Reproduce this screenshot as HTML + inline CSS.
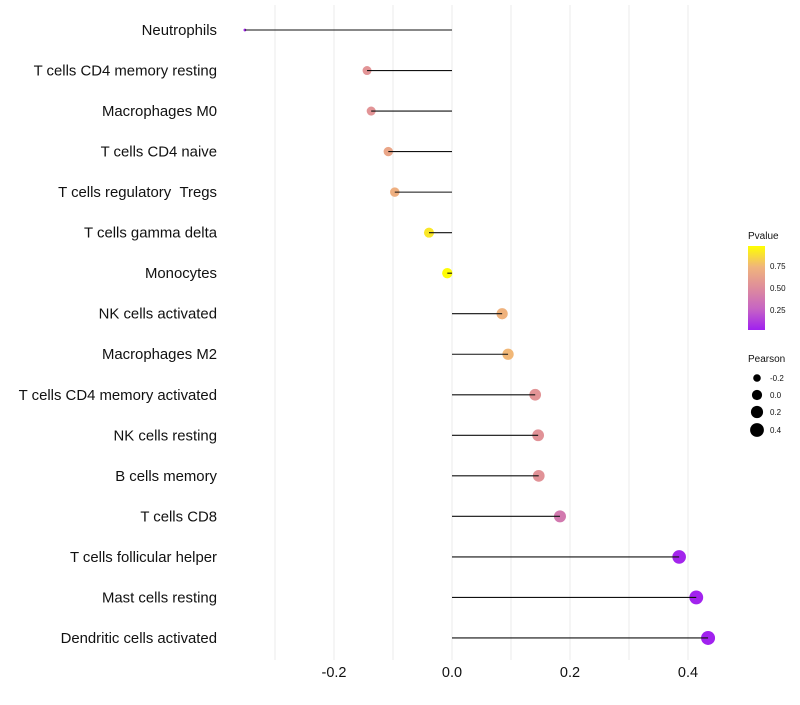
<!DOCTYPE html>
<html><head><meta charset="utf-8"><style>
body{margin:0;background:#fff;font-family:"Liberation Sans",sans-serif;}
</style></head><body>
<svg id="c" width="800" height="700" xmlns="http://www.w3.org/2000/svg">
<defs><linearGradient id="pg" x1="0" y1="1" x2="0" y2="0">
<stop offset="0" stop-color="#a020f0"/><stop offset="0.25" stop-color="#c664c4"/><stop offset="0.5" stop-color="#de8c9c"/><stop offset="0.75" stop-color="#f0b47c"/><stop offset="1" stop-color="#ffff00"/></linearGradient></defs>
<g id="grid"></g><g id="marks"></g><g id="labels"></g>
<g font-size="10" fill="#111">
<text x="748" y="239">Pvalue</text>
<rect x="748" y="246" width="17" height="84" fill="url(#pg)"/>
<text x="770" y="269" font-size="8">0.75</text><text x="770" y="291" font-size="8">0.50</text><text x="770" y="313" font-size="8">0.25</text>
<text x="748" y="362">Pearson</text>
<circle cx="757" cy="378" r="3.8" fill="#000"/><text x="770" y="381" font-size="8">-0.2</text>
<circle cx="757" cy="395" r="5.1" fill="#000"/><text x="770" y="398" font-size="8">0.0</text>
<circle cx="757" cy="412" r="6.1" fill="#000"/><text x="770" y="415" font-size="8">0.2</text>
<circle cx="757" cy="430" r="6.9" fill="#000"/><text x="770" y="433" font-size="8">0.4</text>
</g>
</svg>
<script>
const categories=["Neutrophils","T cells CD4 memory resting","Macrophages M0","T cells CD4 naive","T cells regulatory \u00a0Tregs","T cells gamma delta","Monocytes","NK cells activated","Macrophages M2","T cells CD4 memory activated","NK cells resting","B cells memory","T cells CD8","T cells follicular helper","Mast cells resting","Dendritic cells activated"];
const pearson=[-0.351,-0.144,-0.137,-0.108,-0.097,-0.039,-0.008,0.085,0.095,0.141,0.146,0.147,0.183,0.385,0.414,0.434];
const pvalues=[0.02,0.55,0.55,0.66,0.72,0.92,0.99,0.74,0.76,0.55,0.54,0.54,0.38,0.02,0.01,0.005];
const xTicks=[-0.2,0,0.2,0.4];
const xTickLabels=["-0.2","0.0","0.2","0.4"];
const gridVals=[-0.3,-0.2,-0.1,0,0.1,0.2,0.3,0.4];
const NS="http://www.w3.org/2000/svg";
const xs=v=>452+v*590;
const ys=i=>30+i*40.53;
const rs=v=>Math.sqrt(v>=-0.144?20+50*(v+0.144):Math.max(2,2+87*(v+0.351)));
const stops=[[0,[160,32,240]],[0.25,[198,100,196]],[0.5,[222,140,156]],[0.75,[240,180,124]],[1,[255,255,0]]];
function col(p){for(let k=1;k<stops.length;k++){if(p<=stops[k][0]){const a=stops[k-1],b=stops[k],t=(p-a[0])/(b[0]-a[0]);return "rgb("+a[1].map((c,j)=>Math.round(c+(b[1][j]-c)*t)).join(",")+")";}}return "rgb(255,255,0)";}
function mk(t,attrs,parent){const e=document.createElementNS(NS,t);for(const k in attrs)e.setAttribute(k,attrs[k]);document.getElementById(parent).appendChild(e);return e;}
gridVals.forEach(v=>{const l=mk("line",{x1:xs(v),x2:xs(v),y1:5,y2:660,stroke:"#ebebeb","stroke-width":1},"grid");

});
xTicks.forEach((v,i)=>{const t=mk("text",{x:xs(v),y:677,"text-anchor":"middle","font-size":14.5,fill:"#111"},"labels");t.textContent=xTickLabels[i];

});
categories.forEach((c,i)=>{
const t=mk("text",{x:217,y:ys(i)+5,"text-anchor":"end","font-size":14.9,fill:"#111"},"labels");t.textContent=c;


const p=mk("circle",{cx:xs(pearson[i]),cy:ys(i),r:rs(pearson[i]),fill:col(pvalues[i])},"marks");


const l=mk("line",{x1:xs(0),x2:xs(pearson[i]),y1:ys(i),y2:ys(i),stroke:"#111","stroke-width":1.1},"marks");


});
</script>
</body></html>
